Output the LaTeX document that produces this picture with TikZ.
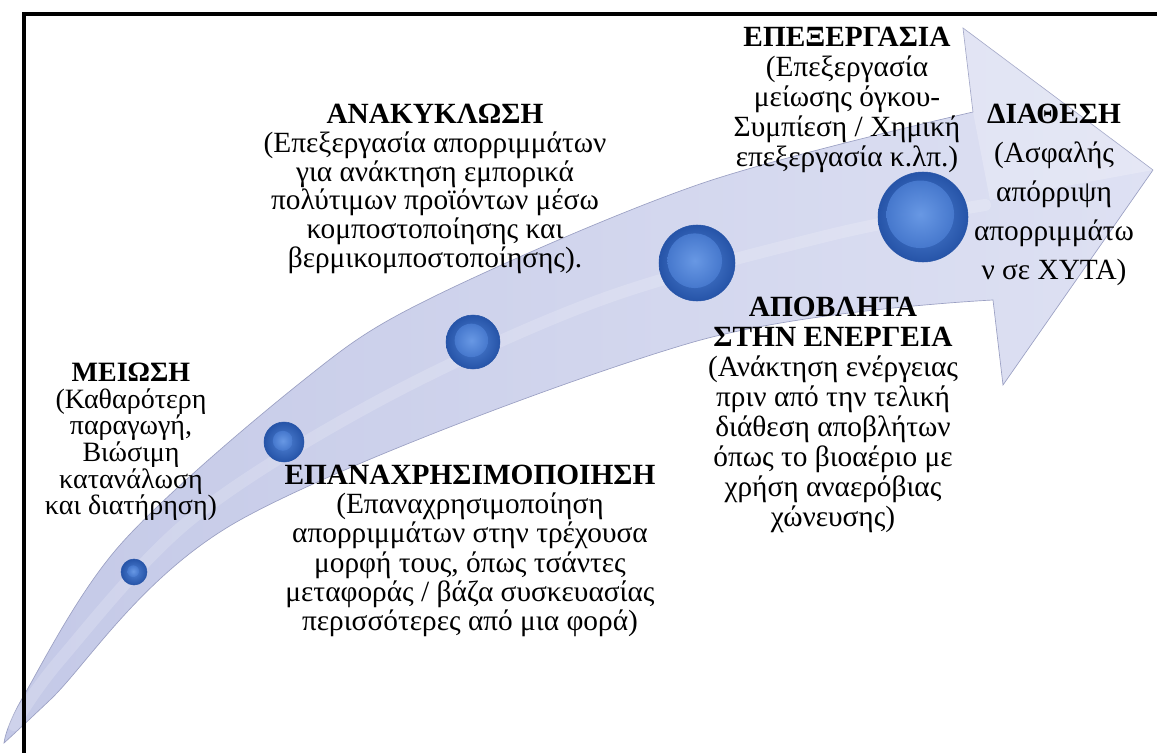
\documentclass[tikz,border=0pt]{standalone}
\usepackage{fontspec}
\setmainfont{Liberation Serif}
\usetikzlibrary{calc}
\definecolor{bandA}{RGB}{196,201,231}
\definecolor{bandB}{RGB}{222,225,243}
\definecolor{bandedge}{RGB}{155,160,195}
\definecolor{ballout}{RGB}{38,84,168}
\definecolor{ballmid}{RGB}{80,130,212}
\definecolor{corein}{RGB}{104,152,228}
\definecolor{coreout}{RGB}{70,120,205}
\tikzset{
  txt/.style={align=center, inner sep=0pt, text=black},
  ballnode/.style={circle, inner sep=0pt, draw=ballout, line width=0.4pt,
    inner color=ballmid, outer color=ballout},
  ballcore/.style={inner color=corein, outer color=coreout},
  frame/.style={line width=2.4pt, black},
  band/.style={left color=bandA, right color=bandB, draw=bandedge, line width=0.5pt},
}
\newcommand\sphere[5]{%
  \node[ballnode, minimum size={1.5pt*#4}] (#1) at (#2,#3) {};
  \shade[ballcore] ($(#1.center)+({-0.06*#4},{-0.06*#4})$) circle ({#5*#4});
}
\begin{document}
\begin{tikzpicture}[x=0.75pt,y=-0.75pt]
\useasboundingbox (0,0) rectangle (1157,753);
% arrow
\coordinate (T) at (4,743);
\coordinate (N1) at (973,112);
\coordinate (B1) at (963,28);
\coordinate (P) at (1153,170);
\coordinate (B2) at (1003,385);
\coordinate (N2) at (993,300);
\path[band] (T) -- plot[smooth, tension=0.55] coordinates {(4,743) (23,697) (120,545) (300,383) (427,300) (700,184) (973,112)}
  -- (B1) -- (P) -- (B2) -- (N2)
  -- plot[smooth, tension=0.55] coordinates {(993,300) (690,343) (240,520) (50,700) (4,743)} -- cycle;
\fill[white, opacity=0.22] (N1) -- (B1) -- (P) -- (990,200) -- cycle;
\draw[white, opacity=0.18, line width=9pt, line cap=round]
  plot[smooth, tension=0.55] coordinates {(14,725) (60,660) (190,520) (380,400) (600,300) (830,235) (985,205)};
% frame
\draw[frame] (24,753) -- (24,14) -- (1157,14);
% balls
\sphere{b1}{134}{572}{13}{0.45}
\sphere{b2}{284}{442}{20}{0.5}
\sphere{b3}{473}{342}{27}{0.62}
\sphere{b4}{697}{263}{38}{0.72}
\sphere{b5}{923}{217}{45}{0.75}
% texts
\node[txt, font=\fontsize{21}{20}\selectfont] (meiosi) at (131,442)
 {{\bfseries ΜΕΙΩΣΗ}\\(Καθαρότερη\\παραγωγή,\\Βιώσιμη\\κατανάλωση\\και διατήρηση)};
\node[txt, font=\fontsize{22}{21.6}\selectfont] (anakyklosi) at (435,189)
 {{\bfseries ΑΝΑΚΥΚΛΩΣΗ}\\(Επεξεργασία απορριμμάτων\\για ανάκτηση εμπορικά\\πολύτιμων προϊόντων μέσω\\κομποστοποίησης και\\βερμικομποστοποίησης).};
\node[txt, font=\fontsize{22}{22}\selectfont] (epanax) at (470,551)
 {{\bfseries ΕΠΑΝΑΧΡΗΣΙΜΟΠΟΙΗΣΗ}\\(Επαναχρησιμοποίηση\\απορριμμάτων στην τρέχουσα\\μορφή τους, όπως τσάντες\\μεταφοράς / βάζα συσκευασίας\\περισσότερες από μια φορά)};
\node[txt, font=\fontsize{22}{22.5}\selectfont] (apovlita) at (833,415)
 {{\bfseries ΑΠΟΒΛΗΤΑ}\\{\bfseries ΣΤΗΝ ΕΝΕΡΓΕΙΑ}\\(Ανάκτηση ενέργειας\\πριν από την τελική\\διάθεση αποβλήτων\\όπως το βιοαέριο με\\χρήση αναερόβιας\\χώνευσης)};
\node[txt, font=\fontsize{22}{22.5}\selectfont] (epexerg) at (847,100)
 {{\bfseries ΕΠΕΞΕΡΓΑΣΙΑ}\\(Επεξεργασία\\μείωσης όγκου-\\Συμπίεση / Χημική\\επεξεργασία κ.λπ.)};
\node[txt, font=\fontsize{22}{29.3}\selectfont] (diathesi) at (1054,195)
 {{\bfseries ΔΙΑΘΕΣΗ}\\(Ασφαλής\\απόρριψη\\απορριμμάτω\\ν σε ΧΥΤΑ)};
\end{tikzpicture}
\end{document}
